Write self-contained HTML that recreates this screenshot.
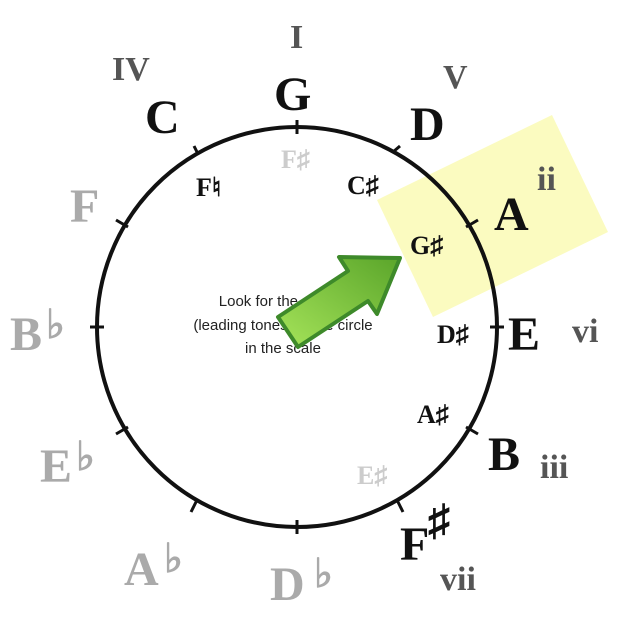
<!DOCTYPE html>
<html><head><style>
html,body{margin:0;padding:0;background:#fff;width:638px;height:626px;overflow:hidden}
svg text{font-family:"Liberation Serif",serif;font-weight:bold}
</style></head><body>
<svg width="638" height="626" viewBox="0 0 638 626" xmlns="http://www.w3.org/2000/svg">
<polygon points="377,200 552,115 608,232 433,317" fill="#fbfbc0"/>
<circle cx="297" cy="327" r="200" fill="none" stroke="#111" stroke-width="4"/>
<g stroke="#111" stroke-width="3">
<line x1="297" y1="120" x2="297" y2="134"/>
<line x1="297" y1="520" x2="297" y2="534"/>
<line x1="90" y1="327" x2="104" y2="327"/>
<line x1="490" y1="327" x2="504" y2="327"/>
<line x1="393" y1="152" x2="400" y2="146"/>
<line x1="197" y1="152" x2="194" y2="146"/>
<line x1="466" y1="227" x2="478" y2="220"/>
<line x1="128" y1="227" x2="116" y2="220"/>
<line x1="466" y1="427" x2="478" y2="434"/>
<line x1="128" y1="427" x2="116" y2="434"/>
<line x1="397" y1="500" x2="403" y2="512"/>
<line x1="197" y1="500" x2="191" y2="512"/>
</g>
<g font-size="48" fill="#111">
<text x="274" y="110">G</text>
<text x="410" y="140">D</text>
<text x="494" y="230">A</text>
<text x="508" y="350">E</text>
<text x="488" y="470">B</text>
<text x="400" y="560">F</text>
<text x="145" y="133">C</text>
</g>
<text x="428" y="535" font-size="44" fill="#111">♯</text>
<g font-size="48" fill="#aaa">
<text x="70" y="222">F</text>
<text x="10" y="350">B</text>
<text x="40" y="482">E</text>
<text x="124" y="585">A</text>
<text x="270" y="600">D</text>
</g>
<g font-size="40" fill="#aaa">
<text x="46" y="338">♭</text>
<text x="76" y="470">♭</text>
<text x="164" y="572">♭</text>
<text x="314" y="587">♭</text>
</g>
<g font-size="34" fill="#555">
<text x="290" y="48">I</text>
<text x="112" y="80">IV</text>
<text x="443" y="88">V</text>
<text x="537" y="190">ii</text>
<text x="572" y="342">vi</text>
<text x="540" y="478">iii</text>
<text x="440" y="590">vii</text>
</g>
<g font-size="26" fill="#111">
<text x="196" y="196">F♮</text>
<text x="347" y="194">C♯</text>
<text x="410" y="254">G♯</text>
<text x="437" y="343">D♯</text>
<text x="417" y="423">A♯</text>
</g>
<g font-size="26" fill="#ccc">
<text x="281" y="168">F♯</text>
<text x="357" y="484">E♯</text>
</g>
<g font-size="14" fill="#222" text-anchor="middle">
<text x="283" y="306" style="font-family:'Liberation Sans Narrow','Liberation Sans',sans-serif;font-weight:normal;font-size:15px">Look for the sharps</text>
<text x="283" y="330" style="font-family:'Liberation Sans Narrow','Liberation Sans',sans-serif;font-weight:normal;font-size:15px">(leading tones) in the circle</text>
<text x="283" y="353" style="font-family:'Liberation Sans Narrow','Liberation Sans',sans-serif;font-weight:normal;font-size:15px">in the scale</text>
</g>
<defs><linearGradient id="g" x1="0" y1="1" x2="1" y2="0"><stop offset="0" stop-color="#a6e45a"/><stop offset="1" stop-color="#5aa52a"/></linearGradient></defs>
<polygon points="400,258 377,314 368,301 298,347 278,317 348,271 339,257" fill="url(#g)" stroke="#3e8a2a" stroke-width="4" stroke-linejoin="round"/>
</svg>
</body></html>
